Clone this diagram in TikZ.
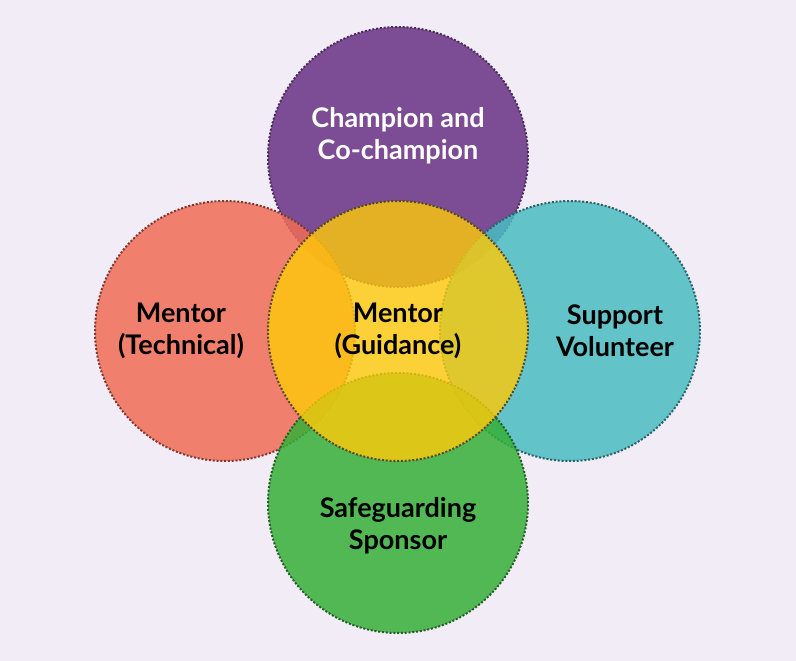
\documentclass[tikz,border=0pt]{standalone}
\usepackage{fontspec}
\setmainfont{Lato}
\definecolor{bgc}{HTML}{F1ECF6}
\definecolor{purf}{RGB}{104,50,131}
\definecolor{redf}{RGB}{240,109,86}
\definecolor{tealf}{RGB}{73,188,194}
\definecolor{grnf}{RGB}{54,176,55}
\definecolor{yelf}{RGB}{255,202,8}
\definecolor{purd}{HTML}{4A2C5A}
\definecolor{redd}{HTML}{7E3A30}
\definecolor{teald}{HTML}{2A6268}
\definecolor{grnd}{HTML}{265E29}
\definecolor{yeld}{HTML}{54492A}
\tikzset{
  ring/.style={circle, minimum size=260pt, inner sep=0pt, line width=2pt,
    dash pattern=on 2pt off 1.8pt},
  outer/.style={ring, fill opacity=0.85},
  lbl/.style={align=center, font=\fontsize{27}{32}\selectfont\bfseries, text=black, inner sep=0pt}
}
\begin{document}
\begin{tikzpicture}[x=1pt,y=-1pt]
\fill[bgc] (0,0) rectangle (796,661);
\useasboundingbox (0,0) rectangle (796,661);
\node[outer, fill=purf, draw=purd] (top) at (398,157) {};
\node[outer, fill=redf, draw=redd] (left) at (225,331) {};
\node[outer, fill=tealf, draw=teald] (right) at (570,331) {};
\node[outer, fill=grnf, draw=grnd] (bottom) at (398,503) {};
\node[ring, fill=yelf, fill opacity=0.8, draw=yeld] (center) at (398,331) {};
\node[lbl, text=white] (ttop) at (398,136) {Champion and\\Co-champion};
\node[lbl] (tleft) at (181,331) {Mentor\\(Technical)};
\node[lbl] (tcenter) at (398,331) {Mentor\\(Guidance)};
\node[lbl] (tright) at (615,331) {Support\\Volunteer};
\node[lbl] (tbottom) at (398,526) {Safeguarding\\Sponsor};
\end{tikzpicture}
\end{document}
